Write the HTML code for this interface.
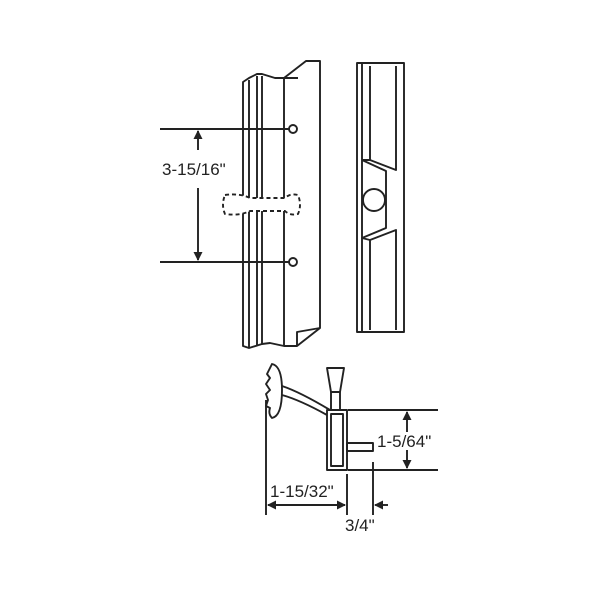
<!DOCTYPE html>
<html><head><style>body{margin:0;background:#fff}svg{display:block}</style></head><body>
<svg width="600" height="600" viewBox="0 0 600 600" xmlns="http://www.w3.org/2000/svg" font-family="Liberation Sans, Arial, sans-serif">
<defs><marker id="a" markerWidth="9" markerHeight="9" refX="8" refY="4.5" orient="auto" markerUnits="userSpaceOnUse"><path d="M0,0 L9,4.5 L0,9z" fill="#222"/></marker></defs>
<g fill="none" stroke="#222" stroke-width="1.9" stroke-linejoin="round">
<path d="M243,82 L249,78 L257,74 L262,74 L275,78 L284,78 L306,61 L320,61 L320,328 L297,346 L284,346 L270,343 L262,344 L249,348 L243,346 Z"/>
<path d="M249,80 L249,348"/><path d="M257,76 L257,346"/><path d="M262,76 L262,344"/>
<path d="M284,78 L284,346"/><path d="M284,78 L298,78 M297,346 L297,332 L320,328"/>
<circle cx="293" cy="129" r="4"/><circle cx="293" cy="262" r="4"/>
<path d="M160,129 L289,129 M160,262 L289,262"/>
<path d="M198,150 L198,131" marker-end="url(#a)"/><path d="M198,188 L198,260" marker-end="url(#a)"/>
<path d="M225,195 Q240,193 250,198 L285,198 Q290,193 298,195 Q302,205 298,214 Q290,216 285,211 L250,211 Q240,216 225,214 Q221,205 225,195 Z" stroke-dasharray="4,3" fill="#fff"/>
<rect x="357" y="63" width="47" height="269"/>
<path d="M362,63 L362,332"/><path d="M370,66 L370,160 L396,170 L396,66"/>
<path d="M362,160 L370,160 M362,160 L386,171 L386,228 L362,238 L370,240 L396,230 L396,330 M370,240 L370,330"/>
<circle cx="374" cy="200" r="11"/>
<path d="M272,364 Q282,366 282,390 Q282,416 272,418 Q268,414 270,408 L266,406 L268,400 L266,394 L270,390 L266,384 L270,378 L267,374 Z"/>
<path d="M282,386 Q300,392 330,410 M282,395 Q300,400 327,415"/>
<path d="M327,368 L344,368 L340,392 L331,392 Z"/><path d="M331,392 L331,410 M340,392 L340,410"/>
<rect x="327" y="410" width="20" height="60"/><path d="M331,414 L343,414 L343,466 L331,466 Z"/>
<rect x="347" y="443" width="26" height="8"/>
<path d="M348,410 L438,410 M348,470 L438,470"/>
<path d="M407,432 L407,412" marker-end="url(#a)"/><path d="M407,450 L407,468" marker-end="url(#a)"/>
<path d="M266,400 L266,515 M347,474 L347,515 M373,462 L373,515"/>
<path d="M300,505 L268,505" marker-end="url(#a)"/><path d="M300,505 L345,505" marker-end="url(#a)"/>
<path d="M388,505 L375,505" marker-end="url(#a)"/>
</g>
<g fill="#222" font-size="17">
<text x="162" y="175">3-15/16"</text>
<text x="377" y="447">1-5/64"</text>
<text x="270" y="497">1-15/32"</text>
<text x="345" y="531">3/4"</text>
</g>
</svg>
</body></html>
